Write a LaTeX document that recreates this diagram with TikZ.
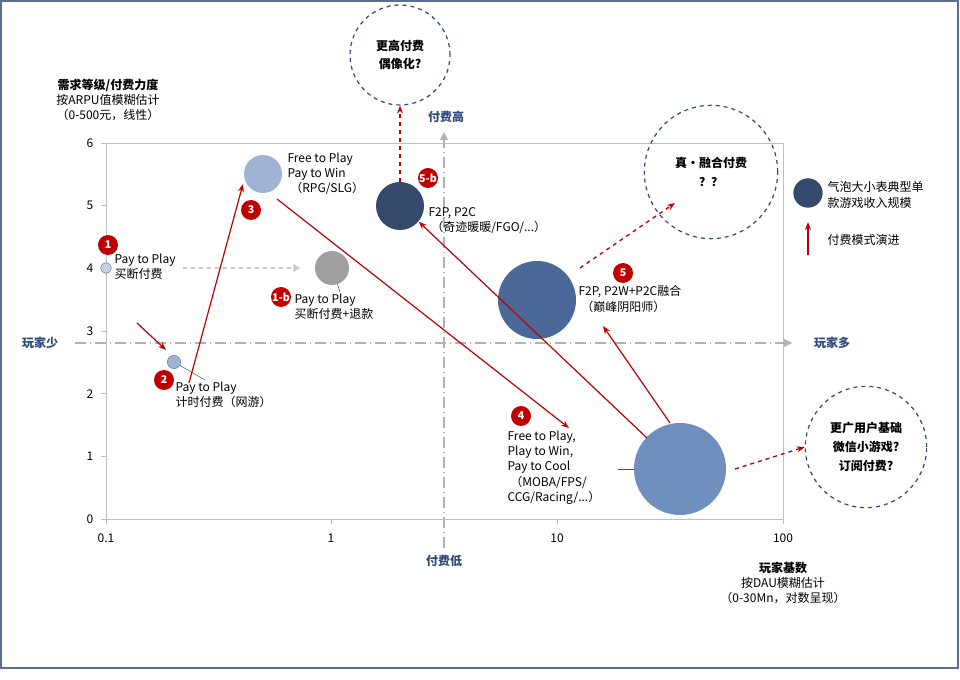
\documentclass[tikz,border=0pt]{standalone}
\usepackage{fontspec}
\setmainfont{Noto Sans CJK SC}
\newfontfamily\cjkb[BoldFont={* Bold}]{Noto Sans CJK SC}
\usetikzlibrary{arrows.meta}
\definecolor{redarr}{HTML}{C00000}
\definecolor{navy}{HTML}{2F4A7A}
\definecolor{bubA}{HTML}{9FB4D4}
\definecolor{bubB}{HTML}{34496B}
\definecolor{bubC}{HTML}{4A6898}
\definecolor{bubD}{HTML}{6F8FBE}
\begin{document}
\begin{tikzpicture}[x=0.75pt,y=-0.75pt,
  every node/.style={font=\fontsize{9}{11.5}\selectfont},
  txt/.style={align=left,anchor=north west,inner sep=1pt},
  badge/.style={circle,fill=redarr,text=white,inner sep=0pt,minimum size=15pt,font=\fontsize{8}{9}\bfseries\selectfont},
  evo/.style={redarr,line width=0.9pt,-{Stealth[length=6pt]}},
  future/.style={redarr,line width=1pt,dashed,-{Stealth[length=6pt]}},
  guide/.style={gray!60,line width=0.9pt,dash pattern=on 8pt off 3pt on 1pt off 3pt,-{Triangle[length=6pt]}},
  idea/.style={circle,draw=navy,dashed,line width=0.9pt,align=center,font=\fontsize{9}{14}\bfseries\selectfont},
  axlab/.style={text=navy,font=\fontsize{9}{11}\bfseries\itshape\selectfont}]
\useasboundingbox (0,0) rectangle (960,680);
\draw[navy!80,line width=1pt] (1,1) rectangle (958,668);
% axes
\draw[gray!50] (106,519) -- (783,519) -- (783,143) -- (106,143) -- cycle;
\foreach \v in {0,...,6} {
  \draw[gray!50] (101,519-62.67*\v) -- (106,519-62.67*\v);
  \node[anchor=east] at (98,519-62.67*\v) {\v};
}
\foreach \v/\px in {0.1/106,1/331,10/557,100/783} {
  \draw[gray!50] (\px,519) -- (\px,524);
  \node at (\px,538) {\v};
}
\node[align=center] (ytitle) at (108,100) {{\bfseries 需求等级/付费力度}\\按ARPU值模糊估计\\（0-500元，线性）};
\node[align=center] (xtitle) at (783,583) {{\bfseries 玩家基数}\\按DAU模糊估计\\（0-30Mn，对数呈现）};
% quadrant guides
\coordinate (hl) at (75,343);
\coordinate (hr) at (792,343);
\coordinate (vb) at (444,548);
\coordinate (vt) at (444,132);
\draw[guide] (hl) -- (hr);
\draw[guide] (vb) -- (vt);
\node[axlab] at (40,343) {玩家少};
\node[axlab] at (832,343) {玩家多};
\node[axlab] at (446,117) {付费高};
\node[axlab] at (444,561) {付费低};
% bubbles
\node[circle,draw=navy!70,fill=bubA!60,minimum size=8pt,inner sep=0pt] (p1) at (106,268) {};
\node[circle,draw=navy!70,fill=bubA,minimum size=10pt,inner sep=0pt] (p2) at (174,362) {};
\node[circle,fill=bubA,minimum size=28.5pt,inner sep=0pt] (p3) at (263,174) {};
\node[circle,fill=gray!75,minimum size=25.5pt,inner sep=0pt] (p1b) at (332,268) {};
\node[circle,fill=bubB,minimum size=36pt,inner sep=0pt] (p5b) at (400,206) {};
\node[circle,fill=bubC,minimum size=58.5pt,inner sep=0pt] (p5) at (537,300) {};
\node[circle,fill=bubD,minimum size=69pt,inner sep=0pt] (p4) at (680,469) {};
% labels
\node[txt] (t1) at (113,252) {Pay to Play\\买断付费};
\node[txt] (t2) at (174,380) {Pay to Play\\计时付费（网游）};
\node[txt] (t3) at (286,151) {Free to Play\\Pay to Win\\\ （RPG/SLG）};
\node[txt] (t1b) at (293,292) {Pay to Play\\买断付费+退款};
\node[txt] (t5b) at (427,206) {F2P, P2C\\\ （奇迹暖暖/FGO/...）};
\node[txt] (t5) at (577,284) {F2P, P2W+P2C融合\\\ （巅峰阴阳师）};
\node[txt] (t4) at (506,429) {Free to Play,\\Play to Win,\\Pay to Cool\\\ （MOBA/FPS/\\CCG/Racing/...）};
\draw[gray!70!black] (p2) -- (205,380);
\draw[gray!70!black] (p1b) -- (340,292);
\draw[black!70] (618,469) -- (p4);
% badges
\node[badge] (b1) at (108,245) {1};
\node[badge] (b1b) at (281,297) {1-b};
\node[badge] (b2) at (164,380) {2};
\node[badge] (b3) at (251,210) {3};
\node[badge] (b4) at (521,416) {4};
\node[badge] (b5) at (623,273) {5};
\node[badge] (b5b) at (428,178) {5-b};
% future circles
\node[idea,minimum size=75pt] (c1) at (400,55) {更高付费\\偶像化?};
\node[idea,minimum size=100pt] (c2) at (711,172) {真·融合付费\\？？};
\node[idea,minimum size=91pt] (c3) at (866,447) {更广用户基础\\微信小游戏?\\订阅付费?};
% evolution
\coordinate (e1s) at (137,323); \coordinate (e1e) at (166,350);
\coordinate (e2s) at (189,383); \coordinate (e2e) at (243,184);
\coordinate (e3s) at (277,199); \coordinate (e3e) at (569,428);
\draw[evo] (e1s) -- (e1e);
\draw[evo] (e2s) -- (e2e);
\draw[evo] (e3s) -- (e3e);
\draw[evo] (647,438) -- (p5b.-40);
\draw[evo] (670,423) -- (603,326);
\draw[future] (400,182) -- (c1.south);
\draw[future] (580,268) -- (675,203);
\draw[future] (735,469) -- (c3.west);
\draw[gray!40,line width=1pt,dashed,-{Triangle[length=5pt]}] (183,268) -- (300,268);
% legend
\node[circle,fill=bubB,minimum size=22pt,inner sep=0pt] (lg) at (808,193) {};
\node[txt] at (826,180) {气泡大小表典型单\\款游戏收入规模};
\draw[evo] (808,255) -- (808,222);
\node[txt] at (826,233) {付费模式演进};
\end{tikzpicture}
\end{document}
